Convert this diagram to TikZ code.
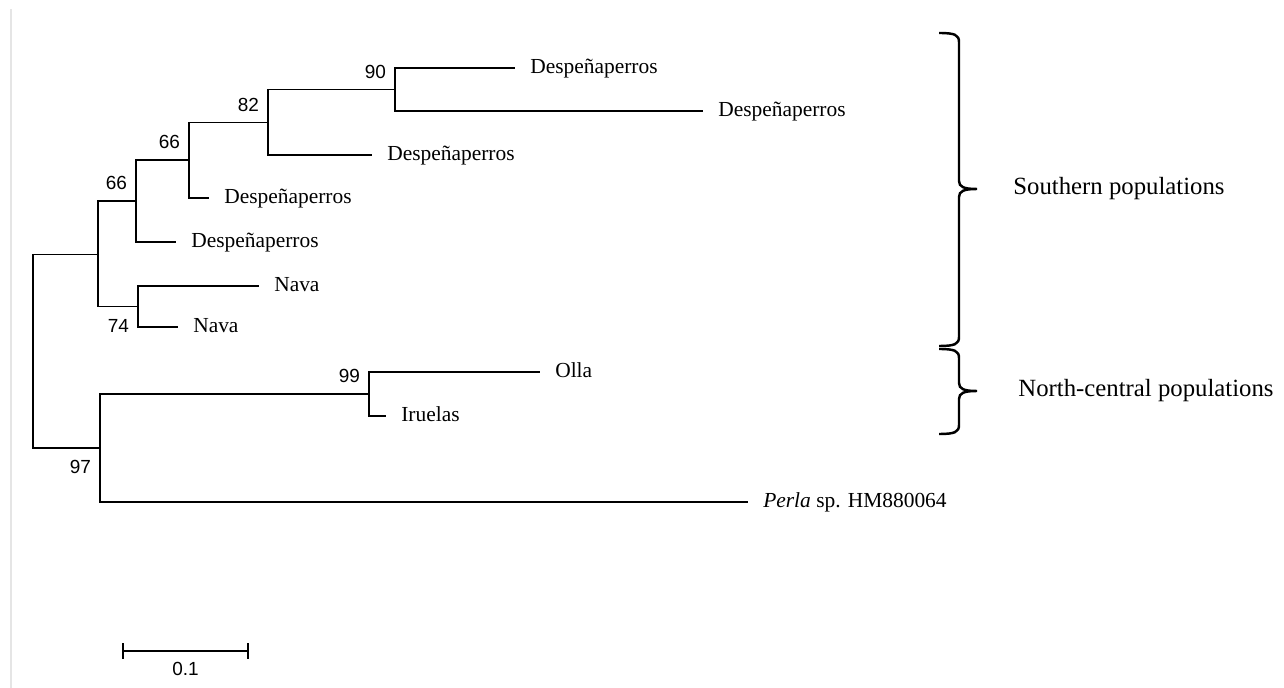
\documentclass[tikz,border=0pt]{standalone}
\usepackage{fontspec}
\setmainfont{Liberation Serif}
\newfontfamily\bootfont{Liberation Sans}
\usepackage{tikz}

\tikzset{
  branch/.style={line width=0.9pt},
  leaf/.style={anchor=west,inner xsep=8.5pt,inner ysep=0pt,text height=0.62em,text depth=0pt,font=\fontsize{12.2}{14}\selectfont},
  boot/.style={anchor=south east,inner sep=0pt,xshift=-5pt,yshift=6pt,font=\bootfont\fontsize{10.8}{12}\selectfont},
  bootlow/.style={anchor=north east,inner sep=0pt,xshift=-5pt,yshift=-7pt,font=\bootfont\fontsize{10.8}{12}\selectfont},
  scalelabel/.style={anchor=north,inner sep=0pt,yshift=-6pt,font=\bootfont\fontsize{10.8}{12}\selectfont},
  group/.style={anchor=west,inner sep=0pt,font=\fontsize{14.1}{16}\selectfont},
  bracket/.style={line width=1.4pt}
}

\begin{document}
\begin{tikzpicture}[x=0.02cm,y=-0.02cm]
    \useasboundingbox (0,0) rectangle (1284,688);
    \draw[black!10,line width=1.6pt] (11,9) -- (11,688);

    % inner nodes
    \coordinate (root) at (33,351);
    \coordinate (A) at (98,254.5);
    \coordinate (B) at (136,201);
    \coordinate (C) at (189,160);
    \coordinate (D) at (268,122.5);
    \coordinate (E) at (395,89.5);
    \coordinate (F) at (138,306.5);
    \coordinate (G) at (100,448);
    \coordinate (H) at (369,394);

    % tips
    \node[leaf] (d1) at (515,68) {Despeñaperros};
    \node[leaf] (d2) at (703,111) {Despeñaperros};
    \node[leaf] (d3) at (372,155) {Despeñaperros};
    \node[leaf] (d4) at (209,198) {Despeñaperros};
    \node[leaf] (d5) at (176,242) {Despeñaperros};
    \node[leaf] (n1) at (259,286) {Nava};
    \node[leaf] (n2) at (178,327) {Nava};
    \node[leaf] (olla) at (540,372) {Olla};
    \node[leaf] (iru) at (386,416) {Iruelas};
    \node[leaf] (perla) at (748,502) {\textit{Perla} sp. HM880064};

    % branches
    \draw[branch] (root) |- (A);
    \draw[branch] (root) |- (G);
    \draw[branch] (A) |- (B);
    \draw[branch] (A) |- (F);
    \draw[branch] (B) |- (C);
    \draw[branch] (B) |- (d5.west);
    \draw[branch] (C) |- (D);
    \draw[branch] (C) |- (d4.west);
    \draw[branch] (D) |- (E);
    \draw[branch] (D) |- (d3.west);
    \draw[branch] (E) |- (d1.west);
    \draw[branch] (E) |- (d2.west);
    \draw[branch] (F) |- (n1.west);
    \draw[branch] (F) |- (n2.west);
    \draw[branch] (G) |- (H);
    \draw[branch] (G) |- (perla.west);
    \draw[branch] (H) |- (olla.west);
    \draw[branch] (H) |- (iru.west);

    % bootstrap values
    \node[boot] at (E) {90};
    \node[boot] at (D) {82};
    \node[boot] at (C) {66};
    \node[boot] at (B) {66};
    \node[bootlow] at (F) {74};
    \node[boot] at (H) {99};
    \node[bootlow] at (G) {97};

    % groups
    \draw[bracket] (939,33) .. controls (955,33) and (959,35) .. (959,42) -- (959,181)
        .. controls (959,187) and (964,189) .. (977,189)
        .. controls (964,189) and (959,191) .. (959,197) -- (959,337)
        .. controls (959,344) and (955,346) .. (939,346);
    \draw[bracket] (939,349) .. controls (955,349) and (959,351) .. (959,358) -- (959,383)
        .. controls (959,389) and (964,391) .. (977,391)
        .. controls (964,391) and (959,393) .. (959,399) -- (959,425)
        .. controls (959,432) and (955,434) .. (939,434);
    \node[group] (south) at (1013,189) {Southern populations};
    \node[group] (north) at (1018,391) {North-central populations};

    % scale bar
    \coordinate (s1) at (123,651);
    \coordinate (s2) at (248,651);
    \draw[branch] (s1) -- node[scalelabel] {0.1} (s2);
    \draw[branch] ([yshift=4.5pt]s1) -- ([yshift=-4.5pt]s1);
    \draw[branch] ([yshift=4.5pt]s2) -- ([yshift=-4.5pt]s2);
\end{tikzpicture}
\end{document}
